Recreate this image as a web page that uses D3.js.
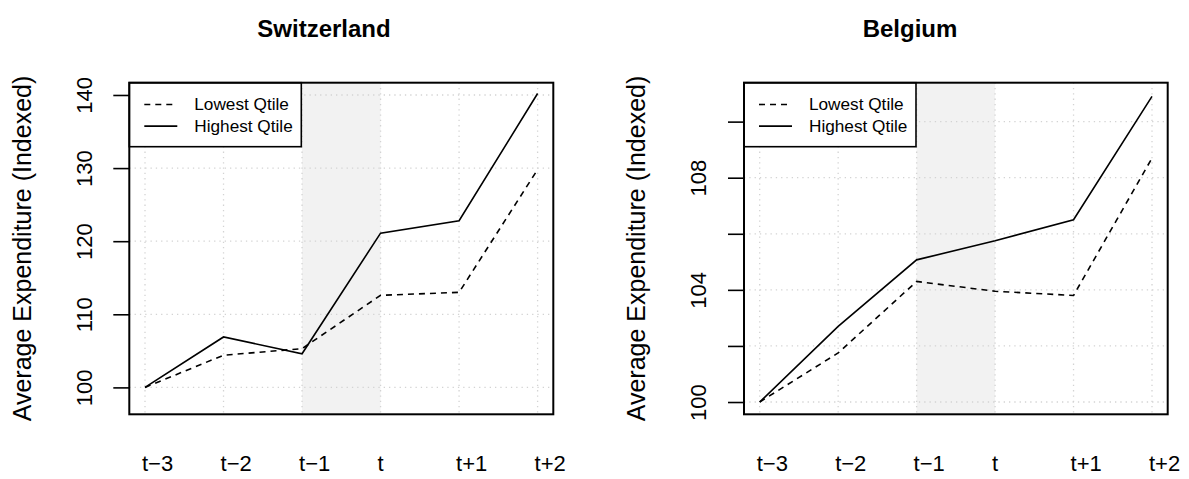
<!DOCTYPE html>
<html>
<head>
<meta charset="utf-8">
<script src="https://cdn.jsdelivr.net/npm/d3@7"></script>
<style>
  body { margin: 0; background: #fff; }
  text { font-family: "Liberation Sans", Arial, sans-serif; }
</style>
</head>
<body>
<div id="chart"></div>
<script>
// data
var periods = ["t\u22123", "t\u22122", "t\u22121", "t", "t+1", "t+2"];
var swissLowest = [100, 104.4, 105.3, 112.6, 113.0, 129.8];
var swissHighest = [100, 106.9, 104.6, 121.1, 122.8, 140.2];
var belgiumLowest = [100, 101.75, 104.3, 103.95, 103.8, 108.7];
var belgiumHighest = [100, 102.7, 105.07, 105.75, 106.5, 110.9];
var swissTicks = [100, 110, 120, 130, 140];
var swissLabels = [100, 110, 120, 130, 140];
var belgiumTicks = [100, 102, 104, 106, 108, 110];
var belgiumLabels = [100, 104, 108];
var shadeFrom = 3, shadeTo = 4;   // t-1 .. t
var legendNames = ["Lowest Qtile", "Highest Qtile"];

var svgWidth = 1189;
var svgHeight = 479;

var svg = d3.select("#chart")
  .append("svg")
  .attr("width", svgWidth)
  .attr("height", svgHeight);

var plotTop = 82.7, plotBottom = 414.3;

var panels = [
  { title: "Switzerland", left: 129.3, right: 553.3, titleX: 324,
    ylim: [98, 140], ticks: swissTicks, labels: swissLabels,
    low: swissLowest, high: swissHighest },
  { title: "Belgium", left: 744, right: 1167.7, titleX: 910,
    ylim: [100, 110.95], ticks: belgiumTicks, labels: belgiumLabels,
    low: belgiumLowest, high: belgiumHighest }
];

// R style 4% axis extension
function extend(lim) {
  var r = lim[1] - lim[0];
  return [lim[0] - 0.04 * r, lim[1] + 0.04 * r];
}

panels.forEach(function(p) {
  var w = p.right - p.left;
  var h = plotBottom - plotTop;
  var g = svg.append("g").attr("transform", `translate(${p.left}, ${plotTop})`);

  var x = d3.scaleLinear().domain(extend([1, 6])).range([0, w]);
  var y = d3.scaleLinear().domain(extend(p.ylim)).range([h, 0]);

  // shaded period
  g.append("rect")
    .attr("x", x(shadeFrom))
    .attr("y", 0)
    .attr("width", x(shadeTo) - x(shadeFrom))
    .attr("height", h)
    .attr("fill", "#f2f2f2");

  // dotted grid
  g.selectAll("line.vgrid")
    .data(d3.range(1, 7))
    .enter()
    .append("line")
    .attr("class", "vgrid")
    .attr("x1", d => x(d)).attr("x2", d => x(d))
    .attr("y1", 0).attr("y2", h)
    .attr("stroke", "#d3d3d3")
    .attr("stroke-width", 1.3)
    .attr("stroke-dasharray", "1.3,4");

  g.selectAll("line.hgrid")
    .data(p.ticks)
    .enter()
    .append("line")
    .attr("class", "hgrid")
    .attr("x1", 0).attr("x2", w)
    .attr("y1", d => y(d)).attr("y2", d => y(d))
    .attr("stroke", "#d3d3d3")
    .attr("stroke-width", 1.3)
    .attr("stroke-dasharray", "1.3,4");

  // lines
  var line = d3.line()
    .x((d, i) => x(i + 1))
    .y(d => y(d));

  g.append("path")
    .datum(p.low)
    .attr("d", line)
    .attr("fill", "none")
    .attr("stroke", "black")
    .attr("stroke-width", 1.6)
    .attr("stroke-dasharray", "6,5");

  g.append("path")
    .datum(p.high)
    .attr("d", line)
    .attr("fill", "none")
    .attr("stroke", "black")
    .attr("stroke-width", 1.6);

  // y axis
  var leftAxis = d3.axisLeft(y)
    .tickValues(p.ticks)
    .tickSize(16)
    .tickFormat(d => p.labels.indexOf(d) >= 0 ? d : "");

  var ax = g.append("g").call(leftAxis);
  ax.select(".domain").remove();
  ax.selectAll(".tick line").attr("stroke", "black").attr("stroke-width", 1.6);
  ax.selectAll(".tick text")
    .attr("x", 0)
    .attr("dy", 0)
    .attr("transform", "translate(-37.8, 0) rotate(-90)")
    .attr("text-anchor", "middle")
    .attr("font-size", 22)
    .attr("font-family", "Liberation Sans, Arial, sans-serif")
    .attr("fill", "black");

  // x labels (left aligned at the period)
  g.selectAll("text.xlab")
    .data(periods)
    .enter()
    .append("text")
    .attr("class", "xlab")
    .attr("x", (d, i) => x(i + 1) - 3)
    .attr("y", 471 - plotTop)
    .attr("font-size", 22)
    .attr("text-anchor", "start")
    .text(d => d);

  // legend
  var leg = g.append("g");
  leg.append("rect")
    .attr("x", 0).attr("y", 0)
    .attr("width", 172).attr("height", 64)
    .attr("fill", "white")
    .attr("stroke", "black")
    .attr("stroke-width", 1.6);
  legendNames.forEach(function(name, i) {
    var ly = 21.8 + i * 21.6;
    leg.append("line")
      .attr("x1", 15).attr("x2", 48)
      .attr("y1", ly).attr("y2", ly)
      .attr("stroke", "black")
      .attr("stroke-width", 1.6)
      .attr("stroke-dasharray", i === 0 ? "6,5" : null);
    leg.append("text")
      .attr("x", 65)
      .attr("y", ly + 6)
      .attr("font-size", 17.2)
      .text(name);
  });

  // box
  g.append("rect")
    .attr("x", 0).attr("y", 0)
    .attr("width", w).attr("height", h)
    .attr("fill", "none")
    .attr("stroke", "black")
    .attr("stroke-width", 2);

  // y title
  svg.append("text")
    .attr("transform", `translate(${p.left - 98.8}, ${(plotTop + plotBottom) / 2}) rotate(-90)`)
    .attr("text-anchor", "middle")
    .attr("font-size", 25)
    .text("Average Expenditure (Indexed)");

  // main title
  svg.append("text")
    .attr("x", p.titleX)
    .attr("y", 37)
    .attr("text-anchor", "middle")
    .attr("font-size", 24)
    .attr("font-weight", "bold")
    .text(p.title);
});
</script>
</body>
</html>
